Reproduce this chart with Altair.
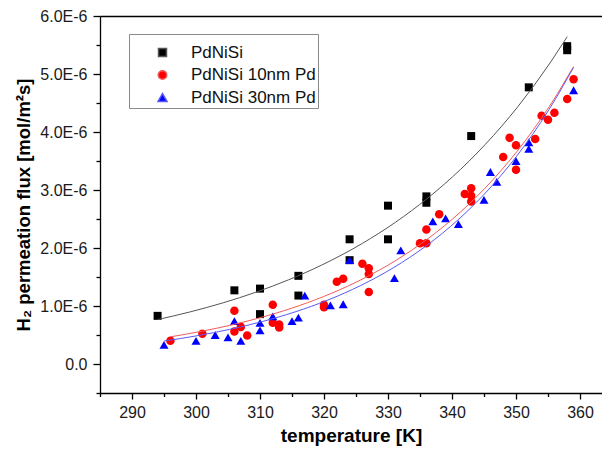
import altair as alt
import pandas as pd

# ---------------- data (flux values in units of 1E-6 mol/m2s) ----------------
series_names = ["PdNiSi", "PdNiSi 10nm Pd", "PdNiSi 30nm Pd"]
point_colors = ["#000000", "#ff0000", "#0000ff"]
line_colors = ["#555555", "#f45a5a", "#5a5af4"]
point_shapes = ["square", "circle", "triangle-up"]
point_sizes = [64, 81, 100]

T_pdnisi = [294, 306, 310, 310, 316, 316, 324, 324, 330, 330, 336, 336, 343, 352, 358, 358]
flux_pdnisi = [0.83, 1.27, 1.30, 0.86, 1.52, 1.18, 2.15, 1.79, 2.73, 2.15, 2.89, 2.78,
               3.93, 4.77, 5.48, 5.41]

T_10nm = [296, 301, 306, 306, 307, 308, 312, 312, 313, 313, 320, 320, 322, 323, 326, 327,
          327, 327, 335, 336, 336, 338, 342, 343, 343, 343, 348, 349, 350, 350, 353, 354,
          355, 356, 358, 359]
flux_10nm = [0.40, 0.52, 0.92, 0.56, 0.64, 0.49, 1.02, 0.71, 0.68, 0.63, 1.02, 0.98, 1.42,
             1.47, 1.73, 1.65, 1.55, 1.24, 2.08, 2.08, 2.32, 2.58, 2.93, 3.03, 2.90, 2.80,
             3.57, 3.90, 3.77, 3.35, 3.88, 4.28, 4.21, 4.33, 4.57, 4.91]

T_30nm = [295, 300, 303, 305, 306, 307, 310, 310, 312, 315, 316, 317, 321, 323, 324, 331,
          332, 337, 339, 341, 345, 346, 347, 350, 352, 352, 359]
flux_30nm = [0.33, 0.40, 0.50, 0.46, 0.74, 0.40, 0.71, 0.58, 0.82, 0.74, 0.80, 1.18, 1.01,
             1.03, 1.79, 1.48, 1.96, 2.46, 2.51, 2.41, 2.83, 3.31, 3.14, 3.50, 3.82, 3.71,
             4.72]

x_tick_values = list(range(285, 361, 5))
y_tick_values = [k * 0.5e-6 for k in range(-1, 13)]
x_domain = [285, 363.44]
y_domain = [-0.5e-6, 6.0e-6]

rows = []
for name, Ts, vs in zip(series_names, [T_pdnisi, T_10nm, T_30nm],
                        [flux_pdnisi, flux_10nm, flux_30nm]):
    for t, v in zip(Ts, vs):
        rows.append({"series": name, "T": t, "flux": v * 1e-6})
df = pd.DataFrame(rows)

FONT = "Liberation Sans"

x_scale = alt.Scale(domain=x_domain, nice=False, zero=False)
y_scale = alt.Scale(domain=y_domain, nice=False, zero=False)

x_axis = alt.Axis(
    values=x_tick_values,
    labelExpr="datum.value % 10 == 0 ? datum.value : ''",
    tickSize={"condition": {"test": "datum.value % 10 == 0", "value": 6}, "value": 3.5},
    title="temperature [K]",
    labelPadding=5,
    titlePadding=6,
    grid=False,
)
y_axis = alt.Axis(
    values=y_tick_values,
    labelExpr="round(datum.value*2e6) % 2 == 0 ? (abs(datum.value) < 1e-12 ? '0.0' : format(datum.value*1e6, '.1f') + 'E-6') : ''",
    tickSize={"condition": {"test": "round(datum.value*2e6) % 2 == 0", "value": 7}, "value": 4},
    title="H₂ permeation flux [mol/m²s]",
    titleFontSize=18.5,
    labelPadding=6,
    titlePadding=6,
    grid=False,
)

legend_spacer = "\u00a0" * 89

points = alt.Chart(df).mark_point(filled=True, opacity=1, strokeWidth=0).encode(
    x=alt.X("T:Q", scale=x_scale, axis=x_axis),
    y=alt.Y("flux:Q", scale=y_scale, axis=y_axis),
    color=alt.Color(
        "series:N",
        scale=alt.Scale(domain=series_names, range=point_colors),
        legend=alt.Legend(
            title=legend_spacer,
            titleFontSize=8,
            titlePadding=0,
            titleLimit=400,
            titleFont=FONT,
            orient="none",
            legendX=29,
            legendY=18,
            strokeColor="#8a8a8a",
            fillColor="white",
            padding=2,
            symbolOffset=23,
            symbolSize=50,
            labelOffset=20,
            labelFont=FONT,
            labelFontSize=17,
            labelFontWeight="normal",
            labelColor="#111111",
            rowPadding=4.5,
        ),
    ),
    shape=alt.Shape(
        "series:N",
        scale=alt.Scale(domain=series_names, range=point_shapes),
    ),
    size=alt.Size(
        "series:N",
        scale=alt.Scale(domain=series_names, range=point_sizes),
        legend=None,
    ),
    order=alt.Order("order:Q"),
).transform_calculate(
    order="indexof(['PdNiSi','PdNiSi 10nm Pd','PdNiSi 30nm Pd'], datum.series)"
)

# exponential growth fit of each series, computed by Vega's regression transform
fits = (
    alt.Chart(df)
    .transform_regression("T", "flux", method="exp", groupby=["series"])
    .mark_line(strokeWidth=1)
    .encode(
        x=alt.X(
            "T:Q",
            scale=x_scale,
            axis=alt.Axis(orient="top", domain=True, ticks=False, labels=False,
                          title=None, grid=False),
        ),
        y=alt.Y("flux:Q", scale=y_scale, axis=y_axis),
        stroke=alt.Stroke(
            "series:N",
            scale=alt.Scale(domain=series_names, range=line_colors),
            legend=None,
        ),
    )
)

chart = (
    alt.layer(points, fits)
    .resolve_axis(x="independent")
    .properties(
        width=502,
        height=377,
        autosize=alt.AutoSizeParams(type="none"),
        padding={"left": 92, "top": 8, "right": 0, "bottom": 57},
        background="white",
    )
    .configure_view(stroke=None)
    .configure_axis(
        domainColor="#000000",
        domainWidth=1.3,
        tickColor="#000000",
        tickWidth=1.3,
        labelFont=FONT,
        labelFontSize=16,
        labelColor="#1a1a1a",
        titleFont=FONT,
        titleFontSize=19,
        titleFontWeight="bold",
        titleColor="#000000",
    )
)

chart.save("out.html", embed_options={"renderer": "svg", "actions": False})
